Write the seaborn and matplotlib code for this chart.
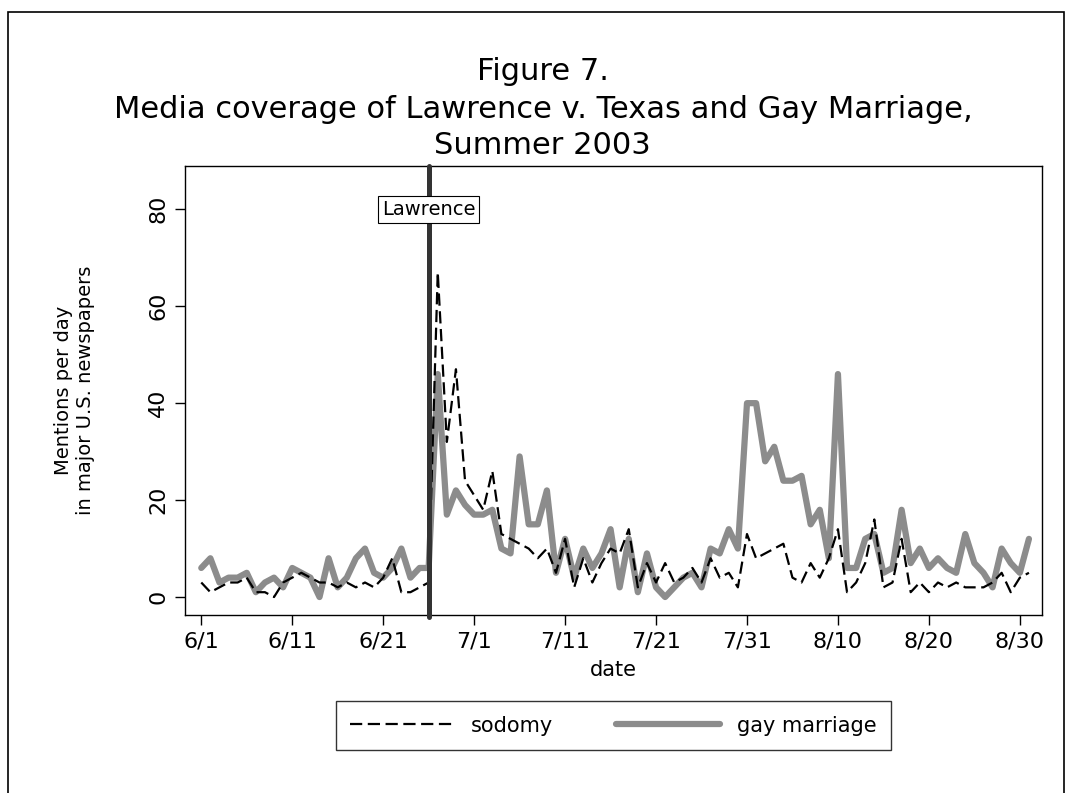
import matplotlib
matplotlib.use("Agg")
import matplotlib.pyplot as plt
from matplotlib.patches import Rectangle
from matplotlib.lines import Line2D
import seaborn as sns
import pandas as pd

# daily mentions, 6/1 - 8/31 2003
dates = pd.date_range("2003-06-01", "2003-08-31", freq="D")

sodomy = [3, 1, 2, 3, 3, 4, 1, 1, 0, 3,
          4, 5, 4, 3, 3, 2, 3, 2, 3, 2,
          4, 8, 1, 1, 2, 3, 67, 32, 47, 24,
          21, 18, 26, 13, 12, 11, 10, 8, 10, 5,
          12, 2, 8, 3, 7, 10, 9, 14, 2, 7,
          3, 7, 3, 4, 6, 3, 8, 4, 5, 2,
          13, 8, 9, 10, 11, 4, 3, 7, 4, 8,
          14, 1, 3, 7, 16, 2, 3, 12, 1, 3,
          1, 3, 2, 3, 2, 2, 2, 3, 5, 1,
          4, 5]

gay_marriage = [6, 8, 3, 4, 4, 5, 1, 3, 4, 2,
                6, 5, 4, 0, 8, 2, 4, 8, 10, 5,
                4, 6, 10, 4, 6, 6, 46, 17, 22, 19,
                17, 17, 18, 10, 9, 29, 15, 15, 22, 5,
                12, 4, 10, 6, 9, 14, 2, 12, 1, 9,
                2, 0, 2, 4, 5, 2, 10, 9, 14, 10,
                40, 40, 28, 31, 24, 24, 25, 15, 18, 8,
                46, 6, 6, 12, 13, 5, 6, 18, 7, 10,
                6, 8, 6, 5, 13, 7, 5, 2, 10, 7,
                5, 12]

event_date = pd.Timestamp("2003-06-26")
event_label = "Lawrence"
y_ticks = [0, 20, 40, 60, 80]

df = pd.DataFrame({"date": dates, "sodomy": sodomy, "gay marriage": gay_marriage})

sns.set_style("white")
plt.rcParams["font.family"] = ["DejaVu Sans"]
plt.rcParams["text.color"] = "black"
plt.rcParams["axes.labelcolor"] = "black"
plt.rcParams["xtick.color"] = "black"
plt.rcParams["ytick.color"] = "black"

fig = plt.figure(figsize=(10.75, 7.93), dpi=100)
ax = fig.add_axes([0.172, 0.2245, 0.797, 0.566])

gray = "#8c8c8c"
sns.lineplot(data=df, x="date", y="sodomy", ax=ax, color="black",
             linewidth=1.6, zorder=3)
ax.lines[-1].set_dashes((5.5, 2.5))
sns.lineplot(data=df, x="date", y="gay marriage", ax=ax, color=gray,
             linewidth=4.5, zorder=2)

ax.axvline(event_date, ymin=-0.005, ymax=1, color="#333333", linewidth=3.6,
           zorder=4, clip_on=False)
ax.text(event_date, 80, event_label, ha="center", va="center", fontsize=14,
        bbox=dict(boxstyle="square,pad=0.2", fc="white", ec="black", lw=0.8),
        zorder=5)

start = dates[0]
ax.set_xlim(start - pd.Timedelta(days=1.8), start + pd.Timedelta(days=92.4))
ax.set_ylim(-3.7, 88.9)
ax.set_yticks(y_ticks)
ax.set_yticklabels([str(v) for v in y_ticks], rotation=90, va="center", fontsize=16)

tick_dates = pd.date_range("2003-06-01", "2003-08-30", freq="10D")
ax.set_xticks(tick_dates)
ax.set_xticklabels([f"{d.month}/{d.day}" for d in tick_dates], fontsize=16)

ax.tick_params(axis="both", direction="out", length=7, width=1, color="black",
               bottom=True, left=True, pad=5)
for s in ax.spines.values():
    s.set_color("black")
    s.set_linewidth(1)

ax.set_xlabel("date", fontsize=15, labelpad=6)
ax.set_ylabel("Mentions per day\nin major U.S. newspapers", fontsize=14, labelpad=38)

fig.text(0.505, 0.91, "Figure 7.", ha="center", va="center", fontsize=22)
fig.text(0.505, 0.862, "Media coverage of Lawrence v. Texas and Gay Marriage,",
         ha="center", va="center", fontsize=22)
fig.text(0.505, 0.816, "Summer 2003", ha="center", va="center", fontsize=22)

handles = [Line2D([], [], color="black", lw=1.6, dashes=(5.5, 2.5)),
           Line2D([], [], color=gray, lw=4.5)]
leg = fig.legend(handles, ["sodomy", "gay marriage"], loc="center",
                 bbox_to_anchor=(0.5705, 0.085), ncol=2, frameon=True,
                 fancybox=False, edgecolor="black", fontsize=15,
                 handlelength=5, columnspacing=3.0, borderpad=0.7)
leg.get_frame().set_linewidth(1)

fig.add_artist(Rectangle((8 / 1075, -0.05), (1064 - 8) / 1075, 1 - 12 / 793 + 0.05,
                         transform=fig.transFigure, fill=False, lw=1.2, ec="black"))

fig.savefig("out.png", dpi=100, facecolor="white")
